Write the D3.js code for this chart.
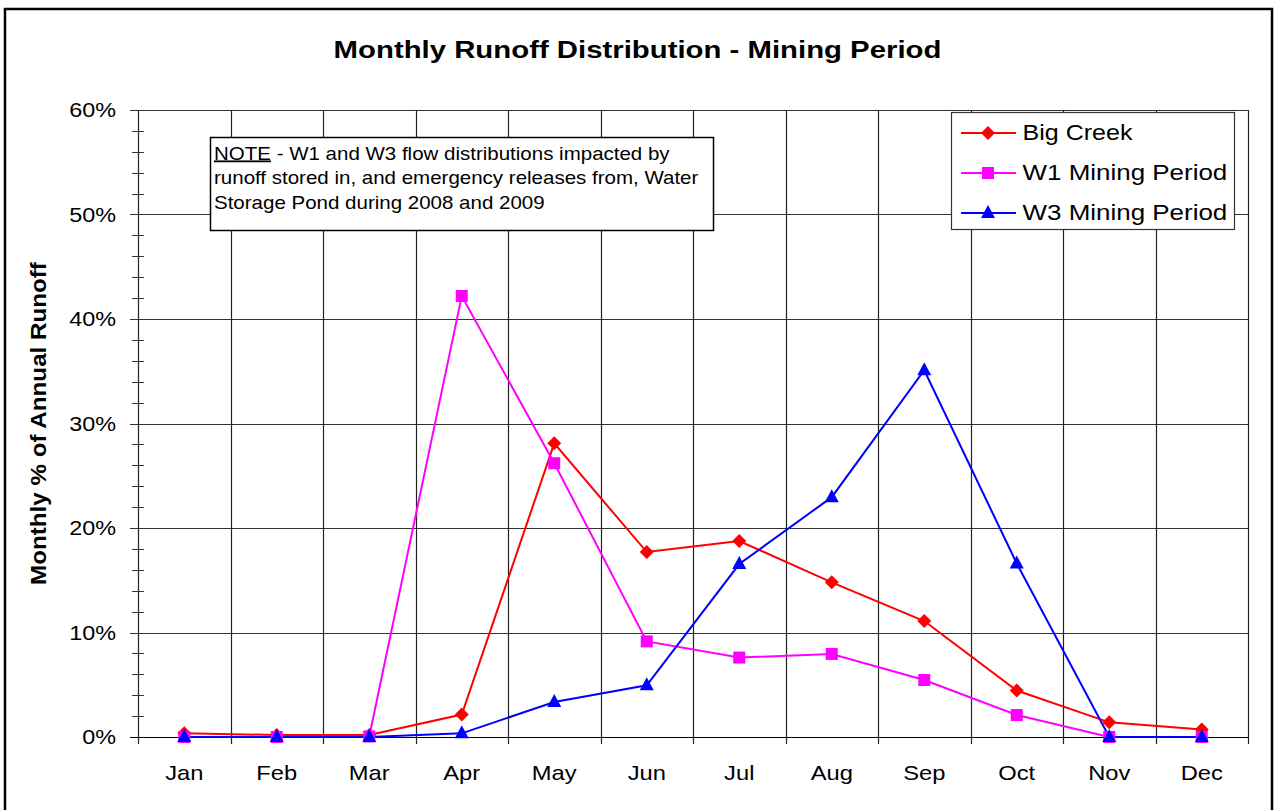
<!DOCTYPE html>
<html>
<head>
<meta charset="utf-8">
<script src="https://cdn.jsdelivr.net/npm/d3@7/dist/d3.min.js"></script>
<style>
  body { margin: 0; background: #fff; }
  svg { display: block; font-family: "Liberation Sans", Arial, sans-serif; }
</style>
</head>
<body>
<svg id="chart" width="1276" height="810"></svg>
<script>
"use strict";
var months = ['Jan', 'Feb', 'Mar', 'Apr', 'May', 'Jun', 'Jul', 'Aug', 'Sep', 'Oct', 'Nov', 'Dec'];
var bigCreek = [0.35, 0.19, 0.19, 2.15, 28.1, 17.7, 18.75, 14.8, 11.1, 4.45, 1.4, 0.72];
var w1Mining = [0, 0, 0.05, 42.2, 26.2, 9.15, 7.6, 7.95, 5.45, 2.1, 0, 0];
var w3Mining = [0, 0, 0, 0.35, 3.35, 4.95, 16.55, 22.95, 35.1, 16.6, 0, 0];
var yTicks = [0, 10, 20, 30, 40, 50, 60];

var series = [
    {name: 'Big Creek', values: bigCreek, color: '#ff0000', marker: 'diamond', width: 110},
    {name: 'W1 Mining Period', values: w1Mining, color: '#ff00ff', marker: 'square', width: 205},
    {name: 'W3 Mining Period', values: w3Mining, color: '#0000ff', marker: 'triangle', width: 205}
];

var svg = d3.select('#chart');
var plotLeft = 138, plotRight = 1248, plotTop = 110, plotBottom = 737;

var x = d3.scaleBand().domain(months).range([plotLeft, plotRight]).padding(0);
var y = d3.scaleLinear().domain([0, 60]).range([plotBottom, plotTop]);
var cx = function(m) { return x(m) + x.bandwidth() / 2; };

// the original picture is stretched sideways, so text is widened to fit
function fitText(sel, w) {
    var n = sel.node().getComputedTextLength();
    sel.attr('transform', (sel.attr('transform') || '') + ' scale(' + (w / n) + ',1)');
}

// outer frame
svg.append('rect').attr('x', 5).attr('y', 9).attr('width', 1267).attr('height', 812)
    .attr('fill', '#fff').attr('stroke', '#000').attr('stroke-width', 2.5);

// title
var title = svg.append('text').attr('transform', 'translate(637.5,58)').attr('text-anchor', 'middle')
    .attr('font-size', 24).attr('font-weight', 'bold')
    .text('Monthly Runoff Distribution - Mining Period');
fitText(title, 608);

// horizontal grid
svg.append('g').selectAll('line').data(yTicks).enter().append('line')
    .attr('x1', plotLeft - 8).attr('x2', plotRight)
    .attr('y1', function(d) { return Math.round(y(d)) + 0.5; })
    .attr('y2', function(d) { return Math.round(y(d)) + 0.5; })
    .attr('stroke', function(d) { return d === 0 ? '#000' : '#333'; }).attr('stroke-width', 1.2);

// vertical grid at band edges
var edges = months.map(function(m) { return x(m); }).concat([plotRight]);
svg.append('g').selectAll('line').data(edges).enter().append('line')
    .attr('x1', function(d) { return Math.round(d) + 0.5; })
    .attr('x2', function(d) { return Math.round(d) + 0.5; })
    .attr('y1', plotTop).attr('y2', plotBottom + 7)
    .attr('stroke', '#222').attr('stroke-width', 1.2);

// minor y ticks
var minor = d3.range(0, 61, 2).filter(function(d) { return d % 10 !== 0; });
svg.append('g').selectAll('line').data(minor).enter().append('line')
    .attr('x1', plotLeft - 6).attr('x2', plotLeft + 6)
    .attr('y1', function(d) { return Math.round(y(d)) + 0.5; })
    .attr('y2', function(d) { return Math.round(y(d)) + 0.5; })
    .attr('stroke', '#333');

// y tick labels
svg.append('g').selectAll('text').data(yTicks).enter().append('text')
    .attr('transform', function(d) { return 'translate(116,' + (y(d) + 7) + ') scale(1.2,1)'; })
    .attr('text-anchor', 'end').attr('font-size', 19.5)
    .text(function(d) { return d + '%'; });

// x tick labels
svg.append('g').selectAll('text').data(months).enter().append('text')
    .attr('transform', function(d) { return 'translate(' + cx(d) + ',780) scale(1.13,1)'; })
    .attr('text-anchor', 'middle').attr('font-size', 21)
    .text(function(d) { return d; });

// y axis title
var yTitle = svg.append('text').attr('transform', 'translate(46,423.5) rotate(-90)')
    .attr('text-anchor', 'middle').attr('font-size', 22).attr('font-weight', 'bold')
    .text('Monthly % of Annual Runoff');
fitText(yTitle, 323);

function markerPath(type) {
    if (type === 'diamond') return 'M0,-7L7,0L0,7L-7,0Z';
    if (type === 'square') return 'M-6,-6H6V6H-6Z';
    return 'M0,-8L7,5H-7Z';
}

var line = d3.line().x(function(d, i) { return cx(months[i]); }).y(function(d) { return y(d); });

series.forEach(function(s) {
    svg.append('path').datum(s.values).attr('d', line)
        .attr('fill', 'none').attr('stroke', s.color).attr('stroke-width', 2);
});
series.forEach(function(s) {
    svg.append('g').selectAll('path').data(s.values).enter().append('path')
        .attr('d', markerPath(s.marker))
        .attr('transform', function(d, i) { return 'translate(' + cx(months[i]) + ',' + y(d) + ')'; })
        .attr('fill', s.color);
});

// note box
var note = svg.append('g');
note.append('rect').attr('x', 210.5).attr('y', 137.5).attr('width', 503).attr('height', 93)
    .attr('fill', '#fff').attr('stroke', '#000').attr('stroke-width', 1.5);
var noteLines = [
    ['NOTE', ' - W1 and W3 flow distributions impacted by', 456],
    ['', 'runoff stored in, and emergency releases from, Water', 485],
    ['', 'Storage Pond during 2008 and 2009', 331]
];
noteLines.forEach(function(l, i) {
    var t = note.append('text').attr('transform', 'translate(214,' + (159.5 + i * 24.5) + ')')
        .attr('font-size', 18);
    if (l[0]) t.append('tspan').attr('text-decoration', 'underline').text(l[0]);
    t.append('tspan').text(l[1]);
    fitText(t, l[2]);
});

// legend
var legend = svg.append('g');
legend.append('rect').attr('x', 951.5).attr('y', 112.5).attr('width', 283).attr('height', 117)
    .attr('fill', '#fff').attr('stroke', '#333').attr('stroke-width', 1.2);
series.forEach(function(s, i) {
    var ly = 133 + i * 40;
    legend.append('line').attr('x1', 961).attr('x2', 1016).attr('y1', ly).attr('y2', ly)
        .attr('stroke', s.color).attr('stroke-width', 2);
    legend.append('path').attr('d', markerPath(s.marker))
        .attr('transform', 'translate(988,' + ly + ')').attr('fill', s.color);
    var t = legend.append('text').attr('transform', 'translate(1022.5,' + (ly + 7) + ')')
        .attr('font-size', 22).text(s.name);
    fitText(t, s.width);
});
</script>
</body>
</html>
